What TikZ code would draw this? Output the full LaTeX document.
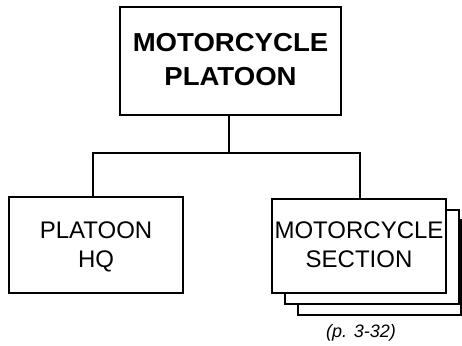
\documentclass[tikz,border=0pt]{standalone}
\usepackage{fontspec}
\setmainfont{Liberation Sans}
\begin{document}
\begin{tikzpicture}[x=1pt,y=-1pt,
  box/.style={draw=black,line width=2pt,fill=white,inner sep=0pt},
  conn/.style={draw=black,line width=2pt},
  toptxt/.style={font=\fontsize{26}{33}\selectfont\bfseries,align=center},
  lowtxt/.style={font=\fontsize{24}{29}\selectfont,align=center}]
\useasboundingbox (0,0) rectangle (462,345);
% stacked back boxes
\draw[box] (298,220) rectangle (461,315);
\draw[box] (285,210) rectangle (459,304);
% main boxes
\node[box,minimum width=221pt,minimum height=108pt] (top) at (230.5,61) {};
\node[box,minimum width=174pt,minimum height=96pt] (hq) at (96,245) {};
\node[box,minimum width=174pt,minimum height=94pt] (sec) at (359,246) {};
% texts
\node[toptxt,anchor=base] (t1) at (230.5,51.5) {\scalebox{1.06}[1]{MOTORCYCLE}};
\node[toptxt,anchor=base] (t2) at (230.5,85) {\scalebox{1.06}[1]{PLATOON}};
\node[lowtxt,anchor=base] (h1) at (96,238) {PLATOON};
\node[lowtxt,anchor=base] (h2) at (96,267) {HQ};
\node[lowtxt,anchor=base] (s1) at (359,238) {MOTORCYCLE};
\node[lowtxt,anchor=base] (s2) at (359,267) {SECTION};
\node[font=\fontsize{18}{20}\selectfont\itshape,anchor=base] (ref) at (361,337) {(p. 3-32)};
% connectors
\coordinate (j) at (229,153);
\draw[conn] (top.south -| j) -- (j);
\draw[conn] (hq.north -| 93,0) |- (j) -| (sec.north -| 360,0);
\end{tikzpicture}
\end{document}
